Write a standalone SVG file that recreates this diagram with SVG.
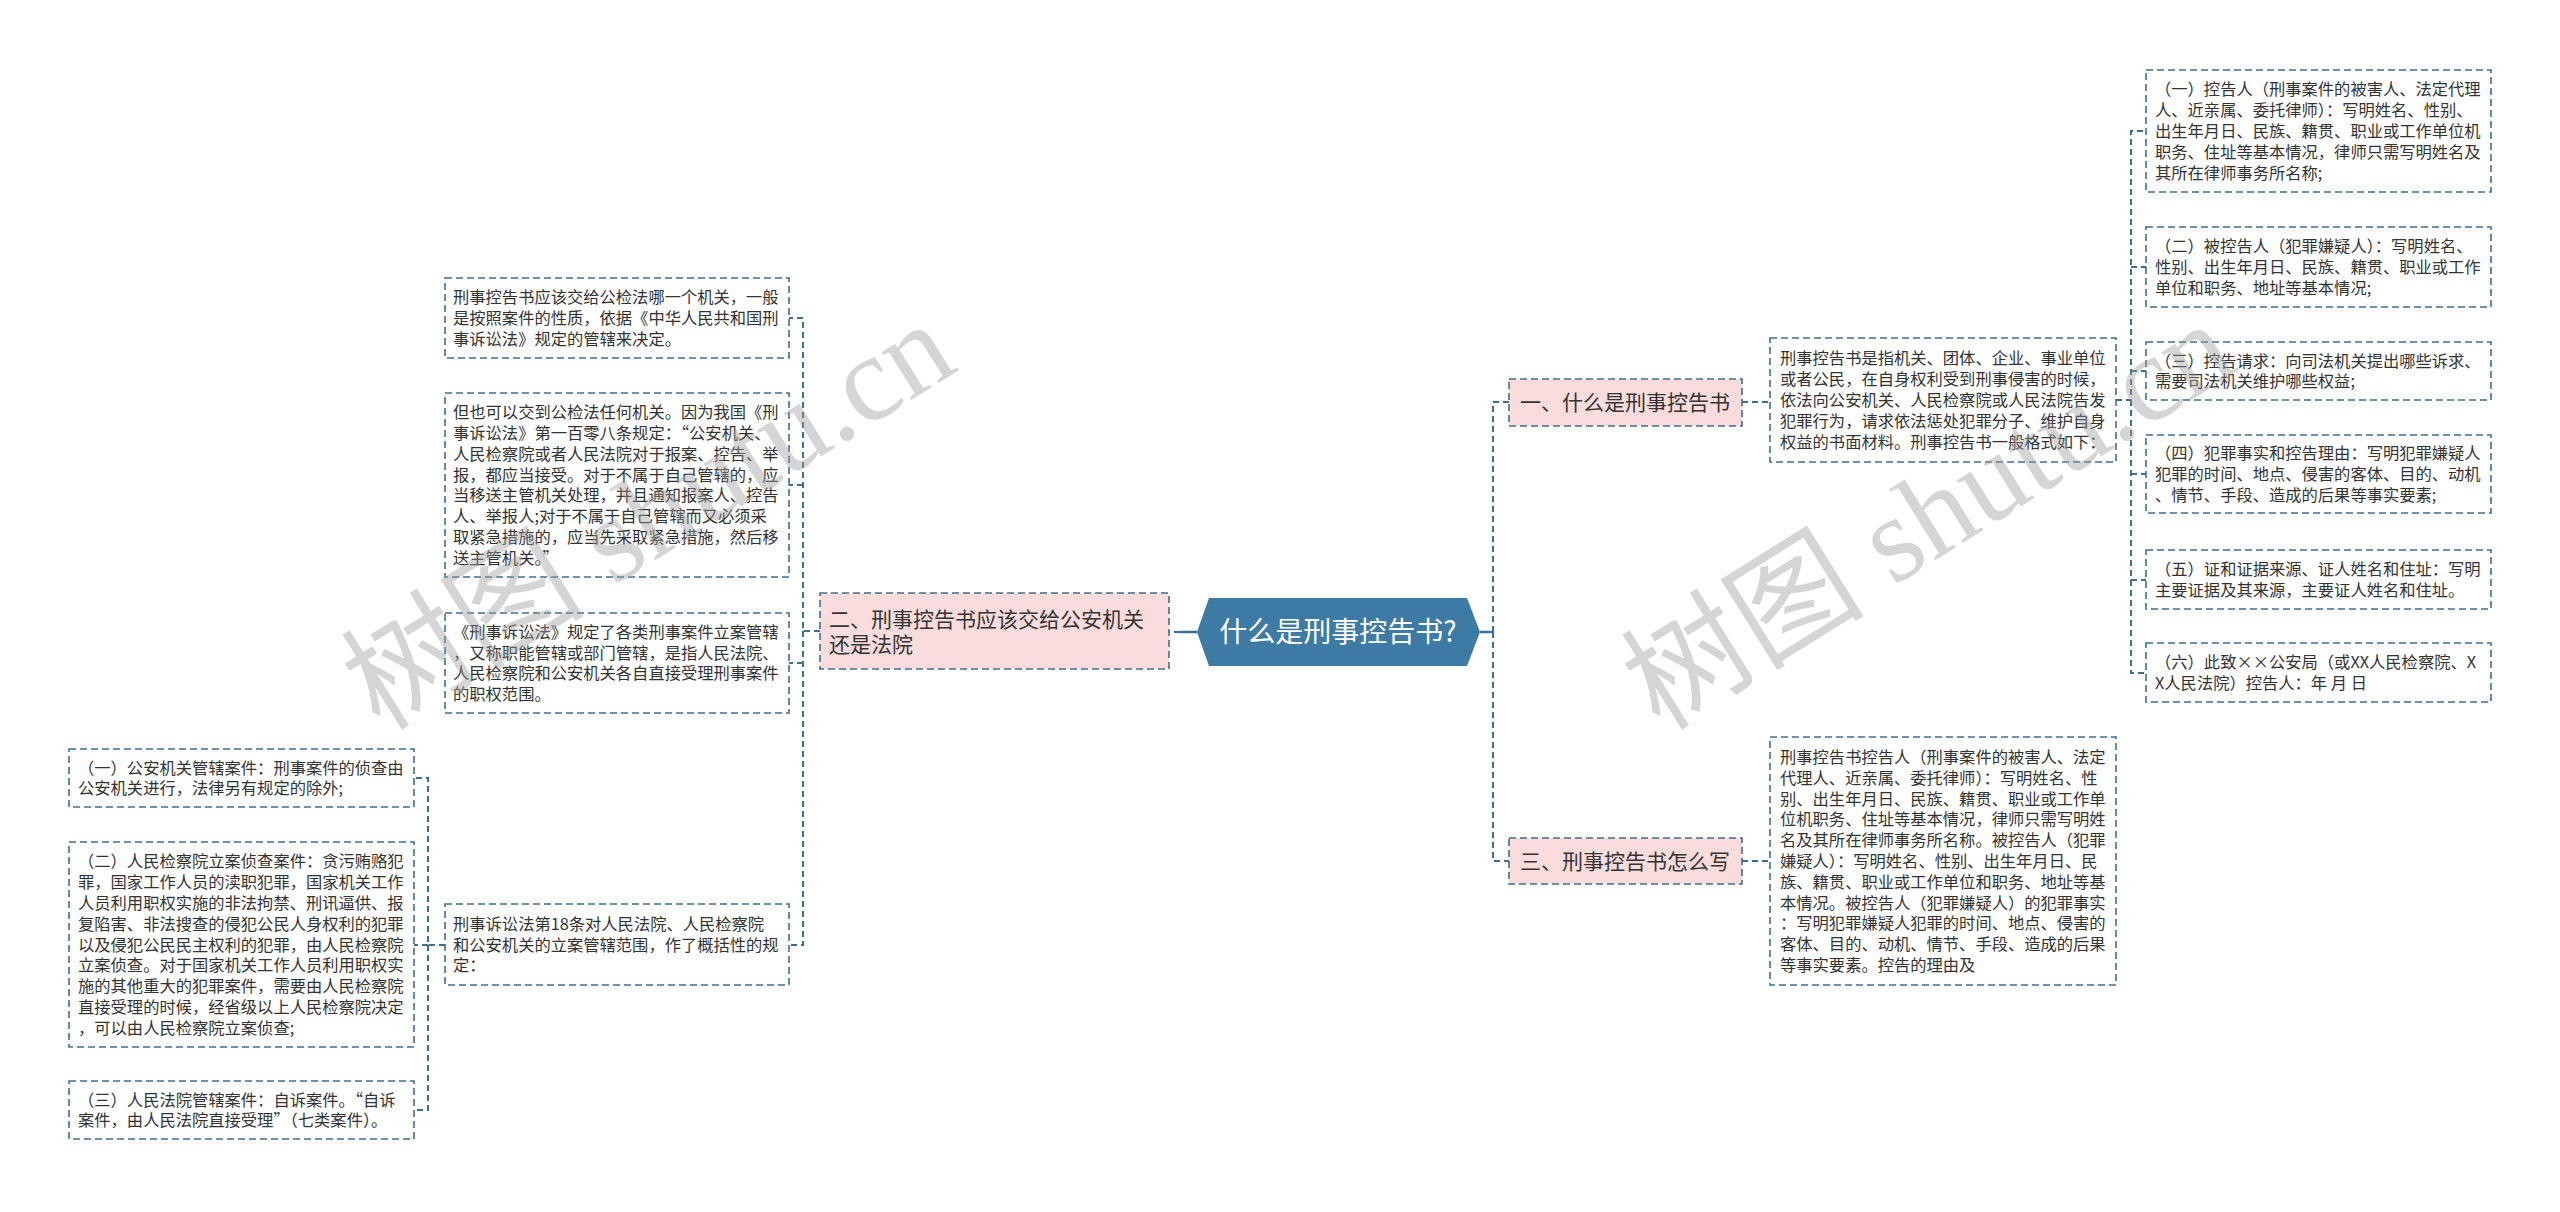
<svg xmlns="http://www.w3.org/2000/svg" width="2560" height="1212" viewBox="0 0 2560 1212">
<style>
.bg{fill:#ffffff}
.box{fill:#ffffff;stroke:#3f6f8f;stroke-width:1.6;stroke-dasharray:7 4}
.br{fill:#fbdcdc;stroke:#3f6f8f;stroke-width:1.6;stroke-dasharray:7 4}
.t{font-family:"Noto Sans CJK SC","Microsoft YaHei",sans-serif;font-size:16.3px;fill:#333333}
.bt{font-family:"Noto Sans CJK SC","Microsoft YaHei",sans-serif;font-size:21px;fill:#333333}
.ct{font-family:"Noto Sans CJK SC","Microsoft YaHei",sans-serif;font-size:28px;fill:#ffffff}
.conn path{fill:none;stroke:#3f6f8f;stroke-width:2;stroke-dasharray:6 4}
.conn .solid{stroke-dasharray:none;stroke-width:2.5}
.wm{font-family:"Liberation Serif","Noto Sans CJK SC",serif;font-size:122px;fill:#9a9a9a;fill-opacity:0.42}
</style>
<rect class="bg" x="0" y="0" width="2560" height="1212"/>

<g class="conn" id="connectors">
<path class="solid" d="M1480,632 H1493"/>
<path d="M1493,632 V402 H1509"/>
<path d="M1493,632 V861 H1509"/>
<path class="solid" d="M1197,632 H1180"/>
<path d="M1180,632 H1169"/>
<path d="M1742,402 H1770"/>
<path d="M1742,861 H1770"/>
<path d="M2116,400 H2131 V131 H2146"/>
<path d="M2131,400 V673 H2146"/>
<path d="M2131,267 H2146"/>
<path d="M2131,371 H2146"/>
<path d="M2131,474 H2146"/>
<path d="M2131,580 H2146"/>
<path d="M820,631 H803 V318 H789"/>
<path d="M803,631 V945 H789"/>
<path d="M803,485 H789"/>
<path d="M803,663 H789"/>
<path d="M445,945 H428 V778 H414"/>
<path d="M428,945 V1110 H414"/>
<path d="M428,945 H414"/>
</g>

<g id="center">
<polygon points="1197,632 1209,598 1467,598 1480,632 1467,666 1209,666" fill="#3e7ba4"/>
<text class="ct" x="1338" y="642" text-anchor="middle">什么是刑事控告书?</text>
</g>

<g id="branch1">
<rect class="br" x="1509" y="379" width="233" height="47"/>
<text class="bt" x="1520" y="410">一、什么是刑事控告书</text>
</g>

<g id="branch3">
<rect class="br" x="1509" y="838" width="233" height="46"/>
<text class="bt" x="1520" y="869">三、刑事控告书怎么写</text>
</g>

<g id="branch2">
<rect class="br" x="820" y="593" width="349" height="76"/>
<text class="bt" x="829" y="627">二、刑事控告书应该交给公安机关</text>
<text class="bt" x="829" y="652">还是法院</text>
</g>

<g id="t1">
<rect class="box" x="1770" y="338" width="346" height="124"/>
<text class="t" x="1780" y="364.4">刑事控告书是指机关、团体、企业、事业单位</text>
<text class="t" x="1780" y="385.2">或者公民，在自身权利受到刑事侵害的时候，</text>
<text class="t" x="1780" y="406">依法向公安机关、人民检察院或人民法院告发</text>
<text class="t" x="1780" y="426.8">犯罪行为，请求依法惩处犯罪分子、维护自身</text>
<text class="t" x="1780" y="447.6">权益的书面材料。刑事控告书一般格式如下：</text>
</g>

<g id="t3">
<rect class="box" x="1770" y="737" width="346" height="248"/>
<text class="t" x="1780" y="763">刑事控告书控告人（刑事案件的被害人、法定</text>
<text class="t" x="1780" y="783.8">代理人、近亲属、委托律师）：写明姓名、性</text>
<text class="t" x="1780" y="804.6">别、出生年月日、民族、籍贯、职业或工作单</text>
<text class="t" x="1780" y="825.4">位机职务、住址等基本情况，律师只需写明姓</text>
<text class="t" x="1780" y="846.2">名及其所在律师事务所名称。被控告人（犯罪</text>
<text class="t" x="1780" y="867">嫌疑人）：写明姓名、性别、出生年月日、民</text>
<text class="t" x="1780" y="887.8">族、籍贯、职业或工作单位和职务、地址等基</text>
<text class="t" x="1780" y="908.6">本情况。被控告人（犯罪嫌疑人）的犯罪事实</text>
<text class="t" x="1780" y="929.4">：写明犯罪嫌疑人犯罪的时间、地点、侵害的</text>
<text class="t" x="1780" y="950.2">客体、目的、动机、情节、手段、造成的后果</text>
<text class="t" x="1780" y="971">等事实要素。控告的理由及</text>
</g>

<g id="r1">
<rect class="box" x="2146" y="70" width="345" height="122"/>
<text class="t" x="2155" y="95.4">（一）控告人（刑事案件的被害人、法定代理</text>
<text class="t" x="2155" y="116.2">人、近亲属、委托律师）：写明姓名、性别、</text>
<text class="t" x="2155" y="137">出生年月日、民族、籍贯、职业或工作单位机</text>
<text class="t" x="2155" y="157.8">职务、住址等基本情况，律师只需写明姓名及</text>
<text class="t" x="2155" y="178.6">其所在律师事务所名称;</text>
</g>

<g id="r2">
<rect class="box" x="2146" y="227" width="345" height="80"/>
<text class="t" x="2155" y="252.2">（二）被控告人（犯罪嫌疑人）：写明姓名、</text>
<text class="t" x="2155" y="273">性别、出生年月日、民族、籍贯、职业或工作</text>
<text class="t" x="2155" y="293.8">单位和职务、地址等基本情况;</text>
</g>

<g id="r3">
<rect class="box" x="2146" y="342" width="345" height="58"/>
<text class="t" x="2155" y="366.6">（三）控告请求：向司法机关提出哪些诉求、</text>
<text class="t" x="2155" y="387.4">需要司法机关维护哪些权益;</text>
</g>

<g id="r4">
<rect class="box" x="2146" y="435" width="345" height="78"/>
<text class="t" x="2155" y="459.2">（四）犯罪事实和控告理由：写明犯罪嫌疑人</text>
<text class="t" x="2155" y="480">犯罪的时间、地点、侵害的客体、目的、动机</text>
<text class="t" x="2155" y="500.8">、情节、手段、造成的后果等事实要素;</text>
</g>

<g id="r5">
<rect class="box" x="2146" y="550" width="345" height="59"/>
<text class="t" x="2155" y="575.1">（五）证和证据来源、证人姓名和住址：写明</text>
<text class="t" x="2155" y="595.9">主要证据及其来源，主要证人姓名和住址。</text>
</g>

<g id="r6">
<rect class="box" x="2146" y="643" width="345" height="59"/>
<text class="t" x="2155" y="668.1">（六）此致××公安局（或XX人民检察院、X</text>
<text class="t" x="2155" y="688.9">X人民法院）控告人：年 月 日</text>
</g>

<g id="l1">
<rect class="box" x="445" y="278" width="344" height="80"/>
<text class="t" x="453" y="303">刑事控告书应该交给公检法哪一个机关，一般</text>
<text class="t" x="453" y="324">是按照案件的性质，依据《中华人民共和国刑</text>
<text class="t" x="453" y="345">事诉讼法》规定的管辖来决定。</text>
</g>

<g id="l2">
<rect class="box" x="445" y="393" width="344" height="184"/>
<text class="t" x="453" y="418.2">但也可以交到公检法任何机关。因为我国《刑</text>
<text class="t" x="453" y="439">事诉讼法》第一百零八条规定：“公安机关、</text>
<text class="t" x="453" y="459.8">人民检察院或者人民法院对于报案、控告、举</text>
<text class="t" x="453" y="480.6">报，都应当接受。对于不属于自己管辖的，应</text>
<text class="t" x="453" y="501.4">当移送主管机关处理，并且通知报案人、控告</text>
<text class="t" x="453" y="522.2">人、举报人;对于不属于自己管辖而又必须采</text>
<text class="t" x="453" y="543">取紧急措施的，应当先采取紧急措施，然后移</text>
<text class="t" x="453" y="563.8">送主管机关。”</text>
</g>

<g id="l3">
<rect class="box" x="445" y="613" width="344" height="100"/>
<text class="t" x="453" y="637.8">《刑事诉讼法》规定了各类刑事案件立案管辖</text>
<text class="t" x="453" y="658.6">，又称职能管辖或部门管辖，是指人民法院、</text>
<text class="t" x="453" y="679.4">人民检察院和公安机关各自直接受理刑事案件</text>
<text class="t" x="453" y="700.2">的职权范围。</text>
</g>

<g id="l4">
<rect class="box" x="445" y="904" width="344" height="81"/>
<text class="t" x="453" y="929.7">刑事诉讼法第18条对人民法院、人民检察院</text>
<text class="t" x="453" y="950.5">和公安机关的立案管辖范围，作了概括性的规</text>
<text class="t" x="453" y="971.3">定：</text>
</g>

<g id="ll1">
<rect class="box" x="69" y="749" width="345" height="58"/>
<text class="t" x="78" y="773.6">（一）公安机关管辖案件：刑事案件的侦查由</text>
<text class="t" x="78" y="794.4">公安机关进行，法律另有规定的除外;</text>
</g>

<g id="ll2">
<rect class="box" x="69" y="842" width="345" height="205"/>
<text class="t" x="78" y="867.3">（二）人民检察院立案侦查案件：贪污贿赂犯</text>
<text class="t" x="78" y="888.1">罪，国家工作人员的渎职犯罪，国家机关工作</text>
<text class="t" x="78" y="908.9">人员利用职权实施的非法拘禁、刑讯逼供、报</text>
<text class="t" x="78" y="929.7">复陷害、非法搜查的侵犯公民人身权利的犯罪</text>
<text class="t" x="78" y="950.5">以及侵犯公民民主权利的犯罪，由人民检察院</text>
<text class="t" x="78" y="971.3">立案侦查。对于国家机关工作人员利用职权实</text>
<text class="t" x="78" y="992.1">施的其他重大的犯罪案件，需要由人民检察院</text>
<text class="t" x="78" y="1012.9">直接受理的时候，经省级以上人民检察院决定</text>
<text class="t" x="78" y="1033.7">，可以由人民检察院立案侦查;</text>
</g>

<g id="ll3">
<rect class="box" x="69" y="1081" width="345" height="58"/>
<text class="t" x="78" y="1105.6">（三）人民法院管辖案件：自诉案件。“自诉</text>
<text class="t" x="78" y="1126.4">案件，由人民法院直接受理”（七类案件）。</text>
</g>

<g id="watermarks">
<text class="wm" x="380" y="732" transform="rotate(-32 380 732)">树图 shutu.cn</text>
<text class="wm" x="1660" y="732" transform="rotate(-32 1660 732)">树图 shutu.cn</text>
</g>
</svg>
